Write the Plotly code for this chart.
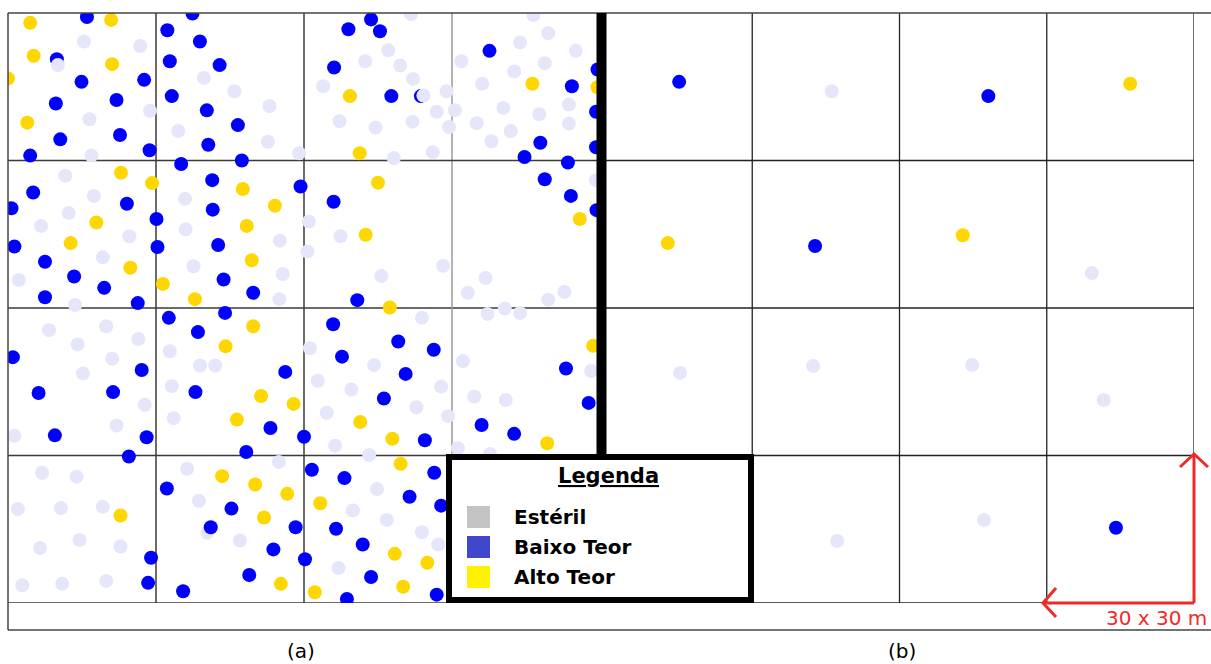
import plotly.graph_objects as go

W, H = 1211, 664

# ---- panel (a): dense sampling, coordinates in metres inside a 120 x 120 m block ----
esteril_a_x = [15.4, 26.8, 28.8, 16.5, 16.9, 39.7, 45.9, 53.0, 34.5, 52.7, 59.0, 11.6, 17.4, 12.3,
               6.7, 24.6, 19.2, 2.2, 13.6, 35.9, 61.0, 36.0, 55.1, 60.7, 37.6, 55.7, 55.0, 81.7,
               77.1, 72.4, 79.5, 82.1, 63.9, 88.9, 86.9, 90.6, 67.2, 74.5, 82.0, 89.4, 78.2, 86.1,
               106.5, 109.5, 103.8, 115.1, 91.9, 108.8, 102.6, 96.1, 113.7, 100.4, 107.7, 95.0,
               113.7, 101.9, 98.0, 119.2, 67.4, 88.2, 75.7, 96.8, 93.2, 112.8, 109.5, 8.3, 19.9,
               14.1, 26.4, 21.1, 15.2, 27.7, 22.0, 1.3, 32.8, 38.9, 42.0, 33.2, 33.6, 61.2, 6.9,
               13.9, 2.0, 10.7, 19.2, 6.5, 14.5, 22.8, 2.9, 11.0, 19.9, 36.3, 54.9, 38.7, 40.4,
               47.0, 83.9, 74.2, 62.8, 87.8, 69.6, 82.8, 64.6, 89.2, 66.3, 73.2, 97.2, 100.7,
               103.8, 92.2, 118.2, 94.5, 100.9, 91.2, 97.7, 74.8, 69.9, 76.8, 83.9, 87.2, 67.0]
esteril_a_y = [114.2, 113.3, 100.1, 98.4, 91.0, 106.8, 104.1, 101.1, 96.0, 93.8, 91.5, 86.9, 82.8,
               79.3, 76.7, 74.6, 70.3, 65.7, 60.6, 82.2, 77.6, 76.0, 73.7, 71.5, 68.5, 66.9, 61.8,
               119.8, 112.4, 110.2, 109.3, 106.6, 105.1, 104.1, 99.9, 100.2, 98.0, 96.7, 97.9, 96.8,
               90.5, 91.7, 119.6, 115.9, 114.0, 112.3, 110.2, 109.8, 108.1, 105.6, 101.4, 100.7,
               99.4, 97.6, 97.5, 96.0, 93.9, 86.0, 74.6, 68.6, 66.5, 66.1, 63.1, 63.3, 61.7, 55.5,
               56.3, 52.6, 53.7, 49.7, 46.7, 40.3, 36.1, 34.0, 51.2, 48.3, 48.3, 44.1, 37.6, 51.8,
               26.5, 25.7, 19.1, 19.3, 19.6, 11.2, 12.8, 11.5, 3.6, 3.9, 4.5, 27.3, 28.7, 20.8,
               14.3, 12.7, 58.0, 48.4, 45.2, 44.0, 43.4, 39.8, 38.7, 38.0, 32.0, 30.1, 58.8, 59.9,
               59.0, 49.2, 47.2, 42.0, 41.3, 31.5, 30.3, 23.2, 18.8, 16.9, 14.4, 11.9, 7.1]

# barren samples plotted last (they overlap a low-grade sample)
esteril_a_top_x = [10.1, 84.2]
esteril_a_top_y = [109.4, 103.2]

baixo_a_x = [16.0, 9.9, 14.9, 27.6, 9.7, 22.0, 10.6, 22.7, 4.5, 28.7, 37.4, 32.3, 38.9, 32.8, 42.9,
             33.2, 40.3, 46.6, 40.6, 47.4, 35.1, 5.1, 0.7, 24.1, 30.1, 1.3, 30.3, 7.5, 13.4, 19.5,
             7.5, 26.3, 41.4, 41.5, 59.3, 42.6, 43.7, 49.7, 44.0, 73.6, 69.0, 75.4, 66.1, 77.7,
             83.7, 97.6, 119.5, 114.3, 119.2, 107.9, 119.2, 104.7, 113.5, 66.0, 70.8, 108.8,
             114.1, 119.3, 1.0, 27.1, 6.2, 21.3, 9.5, 28.1, 24.5, 32.6, 38.5, 56.2, 38.0, 53.2,
             60.0, 48.3, 29.0, 28.4, 32.2, 45.3, 41.1, 58.3, 53.8, 60.2, 48.9, 35.5, 61.6, 65.9,
             79.1, 86.3, 67.7, 80.6, 76.2, 84.5, 113.1, 117.7, 96.0, 102.6, 68.2, 86.4, 81.4,
             87.8, 66.5, 71.9, 73.6, 68.7, 86.9]
baixo_a_y = [119.2, 110.6, 106.0, 106.4, 101.6, 102.3, 94.3, 95.2, 91.0, 92.1, 119.9, 116.5, 114.2,
             110.2, 109.4, 103.1, 100.2, 97.2, 93.2, 90.0, 89.3, 83.5, 80.3, 81.2, 78.1, 72.5,
             72.4, 69.4, 66.4, 64.1, 62.2, 61.0, 86.0, 80.0, 84.7, 72.8, 65.8, 63.1, 59.0, 118.7,
             116.7, 116.3, 108.9, 103.1, 103.1, 112.3, 108.5, 105.1, 99.9, 93.6, 92.7, 90.7,
             89.6, 81.6, 61.6, 86.2, 82.8, 79.9, 50.0, 47.4, 42.7, 42.9, 34.1, 33.7, 29.8, 58.0,
             55.1, 47.0, 42.9, 35.6, 33.8, 30.7, 9.2, 4.1, 23.3, 19.2, 15.4, 15.4, 10.9, 8.9, 5.7,
             2.4, 27.1, 56.7, 53.2, 51.5, 50.1, 46.6, 41.6, 33.1, 47.7, 40.7, 36.2, 34.4, 25.4,
             26.5, 21.6, 19.8, 15.1, 11.9, 5.3, 0.8, 1.7]

alto_a_x = [4.5, 20.9, 5.2, 21.1, 0.0, 3.9, 22.9, 29.2, 17.9, 12.7, 24.8, 47.6, 54.1, 48.4, 49.4,
            31.4, 37.9, 69.3, 71.3, 106.3, 119.5, 75.0, 72.5, 77.4, 115.9, 49.7, 44.1, 51.3, 57.9,
            46.4, 22.8, 43.4, 50.1, 56.6, 51.9, 55.3, 62.2, 71.4, 77.9, 118.6, 109.3, 79.6, 63.3,
            78.4, 85.0, 80.1]
alto_a_y = [118.0, 118.6, 111.3, 109.6, 106.7, 97.7, 87.5, 85.4, 77.4, 73.2, 68.2, 84.2, 80.8, 76.7,
            69.7, 64.9, 61.8, 103.1, 91.5, 105.6, 104.9, 85.5, 74.9, 60.1, 78.1, 56.3, 52.2, 42.1,
            40.5, 37.3, 17.8, 25.8, 24.1, 22.2, 17.4, 3.9, 2.2, 36.8, 33.4, 52.3, 32.5, 28.3, 20.3,
            10.0, 8.2, 3.3]

# ---- panel (b): one sample per 30 x 30 m block ----
esteril_b_x = [46.2, 99.2, 15.3, 42.4, 74.8, 101.6, 47.3, 77.2]
esteril_b_y = [104.1, 67.1, 46.8, 48.2, 48.4, 41.3, 12.6, 16.9]
baixo_b_x = [15.1, 78.1, 42.8, 104.1]
baixo_b_y = [106.0, 103.1, 72.6, 15.3]
alto_b_x = [107.0, 12.8, 72.9]
alto_b_y = [105.6, 73.2, 74.8]

legend_labels = ["Estéril", "Baixo Teor", "Alto Teor"]
legend_colors = ["#C3C3C3", "#3F48CC", "#FFF200"]

COL_ESTERIL = "#E6E6FA"
COL_BAIXO = "#0000FF"
COL_ALTO = "#FFD700"
CELL = 30
SIDE = 120


def px(x):
    return x / W


def py(y):
    return 1 - y / H


fig = go.Figure()


def add_points(xs, ys, color, xa, ya):
    fig.add_trace(go.Scatter(
        x=xs, y=ys, mode="markers", xaxis=xa, yaxis=ya, hoverinfo="skip",
        marker=dict(size=14, color=color, line=dict(width=0)),
    ))


add_points(esteril_a_x, esteril_a_y, COL_ESTERIL, "x", "y")
add_points(baixo_a_x, baixo_a_y, COL_BAIXO, "x", "y")
add_points(alto_a_x, alto_a_y, COL_ALTO, "x", "y")
add_points(esteril_a_top_x, esteril_a_top_y, COL_ESTERIL, "x", "y")

add_points(esteril_b_x, esteril_b_y, COL_ESTERIL, "x2", "y2")
add_points(baixo_b_x, baixo_b_y, COL_BAIXO, "x2", "y2")
add_points(alto_b_x, alto_b_y, COL_ALTO, "x2", "y2")

shapes = []

# block grid of panel (a)
for v in range(CELL, SIDE, CELL):
    shapes.append(dict(type="line", xref="x", yref="y", x0=v, x1=v, y0=0, y1=SIDE, layer="below",
                       line=dict(color="#9A9A9A" if v == 90 else "#3A3A3A", width=1.5)))
    shapes.append(dict(type="line", xref="x", yref="y", x0=0, x1=SIDE, y0=v, y1=v, layer="below",
                       line=dict(color="#3A3A3A", width=1.5)))
shapes.append(dict(type="line", xref="x", yref="y", x0=0, x1=SIDE, y0=0, y1=0, layer="below",
                   line=dict(color="#3A3A3A", width=1.5)))

# block grid of panel (b)
for v in range(CELL, SIDE + 1, CELL):
    shapes.append(dict(type="line", xref="x2", yref="y2", x0=v, x1=v, y0=0, y1=SIDE, layer="below",
                       line=dict(color="#222222", width=1.3)))
for v in range(0, SIDE, CELL):
    shapes.append(dict(type="line", xref="x2", yref="y2", x0=0, x1=SIDE, y0=v, y1=v, layer="below",
                       line=dict(color="#222222", width=1.3)))

# outer frame
frame = dict(color="#444444", width=1.5)
shapes.append(dict(type="line", xref="paper", yref="paper", x0=px(8), x1=px(1215), y0=py(13), y1=py(13), line=frame))
shapes.append(dict(type="line", xref="paper", yref="paper", x0=px(8), x1=px(8), y0=py(13), y1=py(630), line=frame))
shapes.append(dict(type="line", xref="paper", yref="paper", x0=px(8), x1=px(1215), y0=py(630), y1=py(630), line=frame))

# heavy divider between the two panels
shapes.append(dict(type="line", xref="paper", yref="paper", x0=px(601.5), x1=px(601.5), y0=py(13), y1=py(456),
                   layer="above", line=dict(color="black", width=10)))

# legend box
shapes.append(dict(type="rect", xref="paper", yref="paper", x0=px(449), x1=px(751), y0=py(600), y1=py(457),
                   layer="above", fillcolor="white", line=dict(color="black", width=6)))
for i, c in enumerate(legend_colors):
    top = 506 + 30 * i
    shapes.append(dict(type="rect", xref="paper", yref="paper", x0=px(467), x1=px(490), y0=py(top + 22),
                       y1=py(top), layer="above", fillcolor=c, line=dict(width=0)))

# scale arrows (30 x 30 m block)
RED = "#EE2A2A"
red = dict(color=RED, width=3)
shapes.append(dict(type="line", xref="paper", yref="paper", x0=px(1194), x1=px(1194), y0=py(603), y1=py(455),
                   layer="above", line=red))
shapes.append(dict(type="line", xref="paper", yref="paper", x0=px(1194), x1=px(1044), y0=py(603), y1=py(603),
                   layer="above", line=red))
shapes.append(dict(type="path", xref="paper", yref="paper", layer="above", line=red,
                   path=f"M {px(1180)} {py(467)} L {px(1194)} {py(454)} L {px(1208)} {py(467)}"))
shapes.append(dict(type="path", xref="paper", yref="paper", layer="above", line=red,
                   path=f"M {px(1056)} {py(588)} L {px(1043)} {py(603)} L {px(1056)} {py(617)}"))

annotations = [
    dict(text="<b><u>Legenda</u></b>", x=px(608), y=py(476), xref="paper", yref="paper", showarrow=False,
         xanchor="center", yanchor="middle", font=dict(family="DejaVu Sans", size=21, color="black")),
    dict(text="(a)", x=px(301), y=py(651), xref="paper", yref="paper", showarrow=False,
         xanchor="center", yanchor="middle", font=dict(family="DejaVu Sans", size=20, color="black")),
    dict(text="(b)", x=px(902), y=py(651), xref="paper", yref="paper", showarrow=False,
         xanchor="center", yanchor="middle", font=dict(family="DejaVu Sans", size=20, color="black")),
    dict(text="30 x 30 m", x=px(1209), y=py(618), xref="paper", yref="paper", showarrow=False,
         xanchor="right", yanchor="middle", font=dict(family="DejaVu Sans", size=20, color=RED)),
]
for i, lab in enumerate(legend_labels):
    annotations.append(dict(text=f"<b>{lab}</b>", x=px(512), y=py(517 + 30 * i), xref="paper", yref="paper",
                            showarrow=False, xanchor="left", yanchor="middle",
                            font=dict(family="DejaVu Sans", size=20, color="black")))

fig.update_layout(
    width=W, height=H, margin=dict(l=0, r=0, t=0, b=0),
    paper_bgcolor="white", plot_bgcolor="white", showlegend=False,
    xaxis=dict(domain=[px(8), px(600)], range=[0, SIDE], visible=False, anchor="y"),
    yaxis=dict(domain=[py(603), py(13)], range=[0, SIDE], visible=False, anchor="x"),
    xaxis2=dict(domain=[px(605), px(1194)], range=[0, SIDE], visible=False, anchor="y2"),
    yaxis2=dict(domain=[py(603), py(13)], range=[0, SIDE], visible=False, anchor="x2"),
    shapes=shapes, annotations=annotations,
)

fig.write_html("out.html")
